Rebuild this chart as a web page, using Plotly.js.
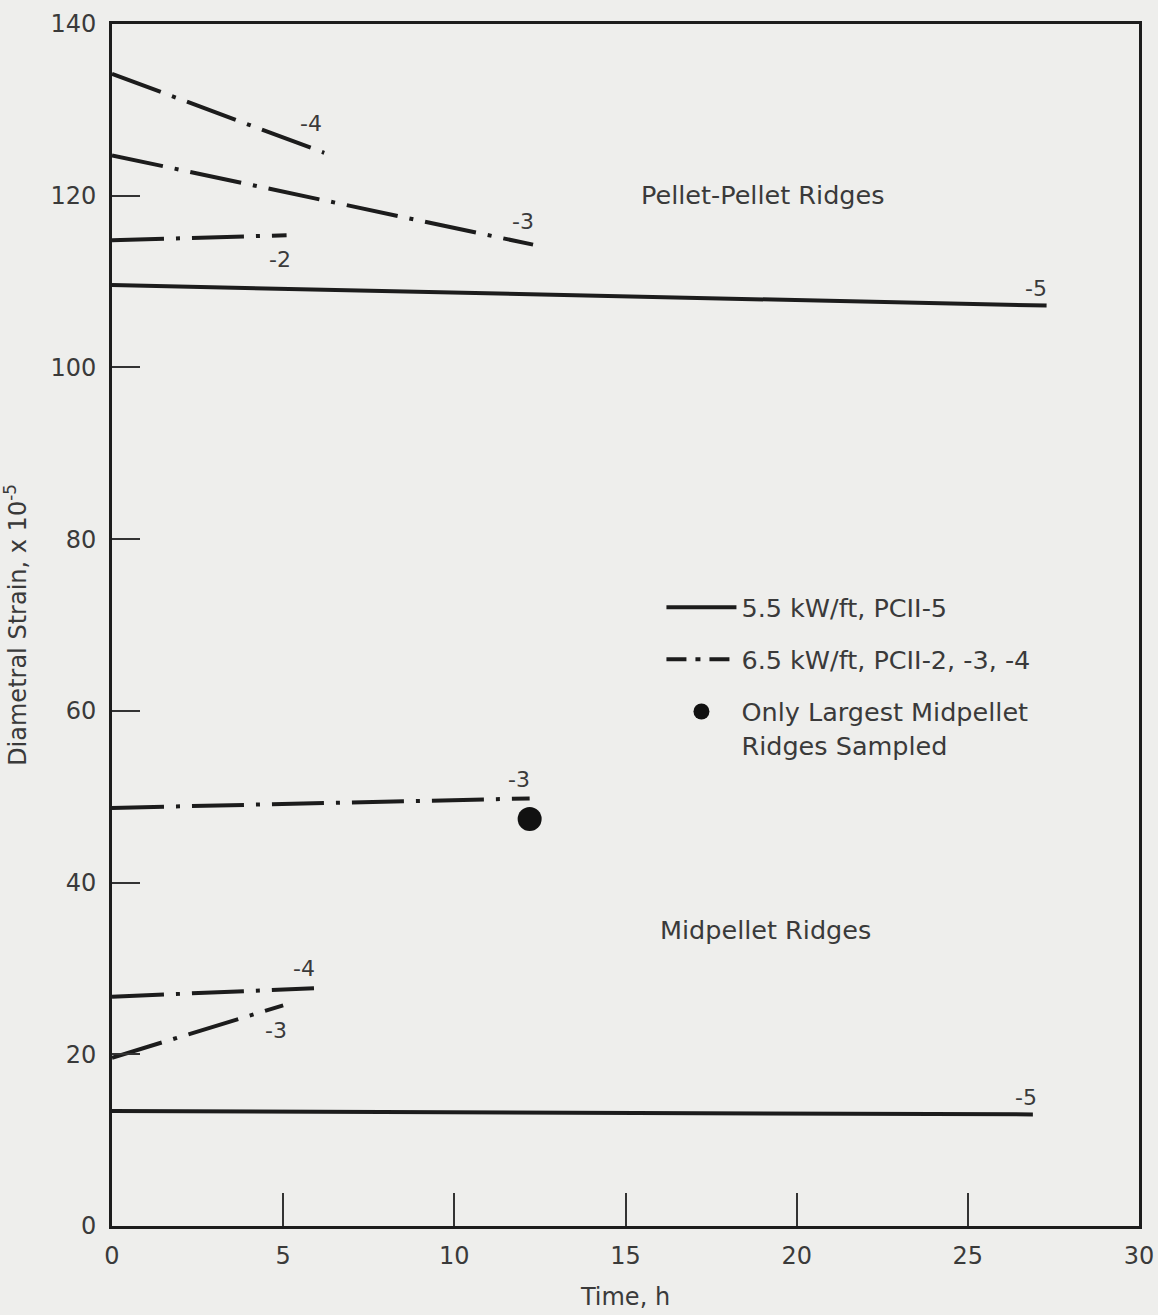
<!DOCTYPE html>
<html>
<head>
<meta charset="utf-8">
<script src="https://cdn.plot.ly/plotly-3.0.1.min.js"></script>
<style>
  html, body { margin: 0; padding: 0; background: #eeeeec; }
  #chart { width: 1158px; height: 1315px; }
</style>
</head>
<body>
<div id="chart"></div>
<script>
// ---- Data ----
// Pellet-pellet ridges
const pp5_x = [0, 27.3];  const pp5_y = [109.6, 107.2];   // 5.5 kW/ft PCII-5
const pp4_x = [0, 6.2];   const pp4_y = [134.2, 125.0];   // 6.5 kW/ft PCII-4
const pp3_x = [0, 12.3];  const pp3_y = [124.7, 114.3];   // 6.5 kW/ft PCII-3
const pp2_x = [0, 5.1];   const pp2_y = [114.8, 115.4];   // 6.5 kW/ft PCII-2
// Midpellet ridges
const mp3a_x = [0, 12.2]; const mp3a_y = [48.7, 49.8];    // PCII-3 (upper)
const mp4_x = [0, 5.9];   const mp4_y = [26.7, 27.7];     // PCII-4
const mp3b_x = [0, 5.0];  const mp3b_y = [19.6, 25.7];    // PCII-3 (lower)
const mp5_x = [0, 26.9];  const mp5_y = [13.4, 13.0];     // PCII-5
// Only largest midpellet ridges sampled
const pt_x = [12.2];      const pt_y = [47.4];

// Curve labels
const lab_text = ["-4", "-3", "-2", "-5", "-3", "-4", "-3", "-5"];
const lab_x    = [5.8, 12.0, 4.9, 27.0, 11.9, 5.6, 4.8, 26.7];
const lab_y    = [128.4, 117.0, 112.6, 109.2, 52.0, 30.0, 22.8, 15.0];
const region_text = ["Pellet-Pellet Ridges", "Midpellet Ridges"];
const region_x = [19.0, 19.1];
const region_y = [120.1, 34.5];

const xTicks = [0, 5, 10, 15, 20, 25, 30];
const yTicks = [0, 20, 40, 60, 80, 100, 120, 140];

// ---- Styles ----
const INK = '#1c1c1c';
const TXT = '#3a3a3a';
const FONT = 'DejaVu Sans, Liberation Sans, Arial, sans-serif';
const DASHDOT = '52px,12px,4px,12px';
const DASHDOT_KEY = '20px,9px,5px,9px';

function solid(x, y, show) {
  return { x: x, y: y, type: 'scatter', mode: 'lines',
    line: { color: INK, width: 4 },
    name: '5.5 kW/ft, PCII-5', legendgroup: 'a', showlegend: show };
}
function dd(x, y, show) {
  return { x: x, y: y, type: 'scatter', mode: 'lines',
    line: { color: INK, width: 4, dash: DASHDOT },
    name: '6.5 kW/ft, PCII-2, -3, -4', legendgroup: 'b', showlegend: show };
}

const traces = [
  solid(pp5_x, pp5_y, true),
  solid(mp5_x, mp5_y, false),
  dd(pp4_x, pp4_y, true),
  dd(pp3_x, pp3_y, false),
  dd(pp2_x, pp2_y, false),
  dd(mp3a_x, mp3a_y, false),
  dd(mp4_x, mp4_y, false),
  dd(mp3b_x, mp3b_y, false),
  { x: pt_x, y: pt_y, type: 'scatter', mode: 'markers',
    marker: { color: '#111', size: 24 },
    name: 'Only Largest Midpellet<br>Ridges Sampled', legendgroup: 'c', showlegend: true }
];

const annotations = [];
for (let i = 0; i < lab_text.length; i++) {
  annotations.push({ x: lab_x[i], y: lab_y[i], xref: 'x', yref: 'y', text: lab_text[i],
    showarrow: false, font: { family: FONT, size: 22, color: TXT } });
}
for (let i = 0; i < region_text.length; i++) {
  annotations.push({ x: region_x[i], y: region_y[i], xref: 'x', yref: 'y', text: region_text[i],
    showarrow: false, font: { family: FONT, size: 25.5, color: TXT } });
}

const layout = {
  width: 1158, height: 1315,
  margin: { l: 112, r: 19, t: 24, b: 89 },
  paper_bgcolor: '#eeeeec', plot_bgcolor: '#eeeeec',
  font: { family: FONT, color: TXT, size: 22 },
  showlegend: true,
  legend: {
    x: 0.535, y: 0.534, xanchor: 'left', yanchor: 'top',
    bgcolor: 'rgba(0,0,0,0)', borderwidth: 0,
    font: { family: FONT, size: 25.5, color: TXT },
    traceorder: 'grouped', tracegroupgap: 16, itemwidth: 70, valign: 'top'
  },
  xaxis: {
    range: [0, 30], tickvals: xTicks, ticktext: xTicks.map(String),
    showgrid: false, zeroline: false,
    showline: true, linecolor: INK, linewidth: 3, mirror: true,
    ticks: 'inside', ticklen: 33, tickwidth: 2, tickcolor: '#333',
    ticklabelstandoff: 6,
    tickfont: { family: FONT, size: 24, color: TXT },
    title: { text: 'Time, h', font: { family: FONT, size: 24, color: TXT }, standoff: 20 }
  },
  yaxis: {
    range: [0, 140], tickvals: yTicks, ticktext: yTicks.map(String),
    showgrid: false, zeroline: false,
    showline: true, linecolor: INK, linewidth: 3, mirror: true,
    ticks: 'inside', ticklen: 28, tickwidth: 2, tickcolor: '#333',
    ticklabelstandoff: 8,
    tickfont: { family: FONT, size: 24, color: TXT },
    title: { text: 'Diametral Strain, x 10<sup>-5</sup>', font: { family: FONT, size: 24, color: TXT }, standoff: 18 }
  },
  annotations: annotations,
  hovermode: false
};

Plotly.newPlot('chart', traces, layout, { displayModeBar: false, staticPlot: true }).then(function (gd) {
  // shorter dash-dot rhythm for the legend key, as in the reference
  gd.querySelectorAll('.legend .traces').forEach(function (g) {
    const t = g.querySelector('text.legendtext');
    if (t && t.textContent.indexOf('6.5') === 0) {
      const p = g.querySelector('path.js-line');
      if (p) p.style.strokeDasharray = DASHDOT_KEY;
    }
  });
});
</script>
</body>
</html>
